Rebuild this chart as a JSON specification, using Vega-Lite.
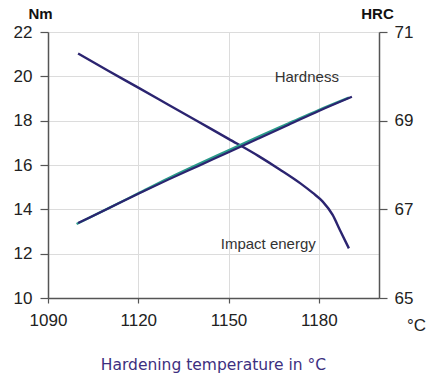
{
  "$schema": "https://vega.github.io/schema/vega-lite/v6.json",
  "width": 331,
  "height": 266,
  "autosize": "none",
  "padding": {"left": 48, "top": 32, "right": 50, "bottom": 77},
  "background": "white",
  "config": {"view": {"stroke": null}, "font": "Liberation Sans"},
  "title": {"text": "Hardening temperature in °C", "orient": "bottom", "anchor": "middle", "font": "DejaVu Sans", "fontSize": 15.5, "fontWeight": "normal", "color": "#3d2f80", "offset": 25},
  "datasets": {
    "impact": [
      {"t": 1100, "nm": 21.03}, {"t": 1110, "nm": 20.25}, {"t": 1120, "nm": 19.49},
      {"t": 1130, "nm": 18.72}, {"t": 1140, "nm": 17.95}, {"t": 1150, "nm": 17.18},
      {"t": 1160, "nm": 16.4}, {"t": 1167, "nm": 15.8}, {"t": 1174, "nm": 15.16},
      {"t": 1178, "nm": 14.74}, {"t": 1181.3, "nm": 14.35}, {"t": 1184.6, "nm": 13.75},
      {"t": 1187, "nm": 13.07}, {"t": 1190, "nm": 12.24}
    ],
    "hardness": [
      {"t": 1100, "hrc": 66.69}, {"t": 1110, "hrc": 67.02}, {"t": 1120, "hrc": 67.35},
      {"t": 1130, "hrc": 67.67}, {"t": 1140, "hrc": 67.98}, {"t": 1150, "hrc": 68.29},
      {"t": 1160, "hrc": 68.6}, {"t": 1170, "hrc": 68.91}, {"t": 1180, "hrc": 69.22},
      {"t": 1191, "hrc": 69.54}
    ],
    "hardnessTeal": [
      {"t": 1099.5, "hrc": 66.67}, {"t": 1110, "hrc": 67.02}, {"t": 1120, "hrc": 67.36},
      {"t": 1130, "hrc": 67.7}, {"t": 1140, "hrc": 68.02}, {"t": 1150, "hrc": 68.33},
      {"t": 1160, "hrc": 68.64}, {"t": 1170, "hrc": 68.94}, {"t": 1180, "hrc": 69.24},
      {"t": 1190, "hrc": 69.52}
    ],
    "labels": [
      {"t": 1176, "nm": 19.95, "label": "Hardness"},
      {"t": 1163.2, "nm": 12.43, "label": "Impact energy"}
    ]
  },
  "encoding": {
    "x": {
      "field": "t", "type": "quantitative",
      "scale": {"domain": [1090, 1200], "nice": false, "zero": false},
      "axis": {
        "values": [1090, 1120, 1150, 1180], "format": "d", "grid": true, "gridColor": "#dcdcdc", "gridWidth": 1,
        "domainColor": "#555555", "domainWidth": 1.5, "tickColor": "#555555", "tickWidth": 1.2, "tickSize": 5,
        "labelFontSize": 17, "labelColor": "#222222", "labelPadding": 9, "labelFlush": false,
        "title": "°C", "titleX": 368, "titleY": 27, "titleFontSize": 17, "titleFontWeight": "normal",
        "titleAlign": "center", "titleBaseline": "middle", "titleColor": "#222222"
      }
    }
  },
  "layer": [
    {
      "layer": [
        {
          "data": {"name": "impact"},
          "mark": {"type": "line", "color": "#2b2470", "strokeWidth": 2.4, "interpolate": "monotone"},
          "encoding": {
            "y": {
              "field": "nm", "type": "quantitative",
              "scale": {"domain": [10, 22], "nice": false, "zero": false},
              "axis": {
                "values": [10, 12, 14, 16, 18, 20, 22], "grid": true, "gridColor": "#dcdcdc",
                "domainColor": "#555555", "domainWidth": 1.5, "tickColor": "#555555", "tickWidth": 1.2, "tickSize": 8,
                "labelFontSize": 17, "labelColor": "#222222", "labelPadding": 8,
                "title": "Nm", "titleAngle": 0, "titleX": -8, "titleY": -19, "titleFontSize": 15,
                "titleFontWeight": "bold", "titleAlign": "center", "titleBaseline": "middle", "titleColor": "#111111"
              }
            }
          }
        },
        {
          "data": {"name": "labels"},
          "mark": {"type": "text", "fontSize": 15, "color": "#333333", "align": "center", "baseline": "middle"},
          "encoding": {
            "y": {"field": "nm", "type": "quantitative"},
            "text": {"field": "label"}
          }
        }
      ]
    },
    {
      "layer": [
        {
          "data": {"name": "hardnessTeal"},
          "mark": {"type": "line", "color": "#2a9a8a", "strokeWidth": 2.4, "interpolate": "monotone"},
          "encoding": {
            "y": {
              "field": "hrc", "type": "quantitative",
              "scale": {"domain": [65, 71], "nice": false, "zero": false},
              "axis": {
                "orient": "right", "values": [65, 67, 69, 71], "grid": false,
                "domainColor": "#555555", "domainWidth": 1.5, "tickColor": "#555555", "tickWidth": 1.2, "tickSize": 8,
                "labelFontSize": 17, "labelColor": "#222222", "labelPadding": 7,
                "title": "HRC", "titleAngle": 0, "titleX": -2, "titleY": -19, "titleFontSize": 15,
                "titleFontWeight": "bold", "titleAlign": "center", "titleBaseline": "middle", "titleColor": "#111111"
              }
            }
          }
        },
        {
          "data": {"name": "hardness"},
          "mark": {"type": "line", "color": "#2b2470", "strokeWidth": 2.2, "interpolate": "monotone"},
          "encoding": {
            "y": {"field": "hrc", "type": "quantitative"}
          }
        }
      ]
    }
  ],
  "resolve": {"scale": {"y": "independent"}}
}
